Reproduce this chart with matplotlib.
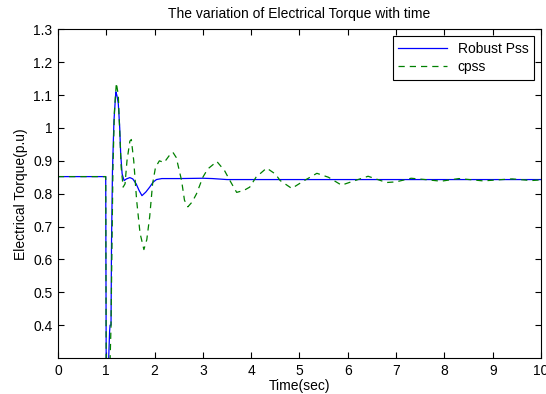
import numpy as np
import matplotlib
matplotlib.use("Agg")
import matplotlib.pyplot as plt

plt.rcParams["font.family"] = ["Liberation Sans", "DejaVu Sans"]

# Robust PSS response
t_rob = [0, 0.99, 1.0, 1.05, 1.07, 1.08, 1.10, 1.11, 1.13, 1.16, 1.19, 1.20,
         1.22, 1.25, 1.28, 1.30, 1.33, 1.37, 1.42, 1.49, 1.55, 1.62, 1.68,
         1.74, 1.82, 1.90, 1.97, 2.04, 2.15, 2.5, 3.0, 3.2, 3.5, 4.0, 10]
v_rob = [0.852, 0.852, 0.29, 0.29, 0.38, 0.40, 0.40, 0.65, 0.87, 1.02, 1.09, 1.11,
         1.10, 1.075, 1.00, 0.92, 0.86, 0.84, 0.845, 0.849, 0.845, 0.83, 0.81,
         0.794, 0.805, 0.82, 0.835, 0.843, 0.846, 0.846, 0.847, 0.846, 0.843, 0.843, 0.843]

# Conventional PSS response
t_cpss = [0, 0.99, 1.0, 1.08, 1.10, 1.12, 1.14, 1.17, 1.21, 1.25, 1.28, 1.31,
          1.35, 1.39, 1.43, 1.49, 1.52, 1.57, 1.63, 1.70, 1.78, 1.84, 1.90,
          1.96, 2.02, 2.10, 2.20, 2.30, 2.38, 2.45, 2.56, 2.62, 2.69, 2.78,
          2.87, 3.0, 3.1, 3.29, 3.45, 3.56, 3.70, 3.85, 3.97, 4.1, 4.32, 4.5,
          4.6, 4.84, 5.1, 5.36, 5.6, 5.87, 6.15, 6.42, 6.8, 7.0, 7.31, 7.6,
          7.93, 8.3, 8.8, 9.4, 9.8, 10]
v_cpss = [0.852, 0.852, 0.29, 0.29, 0.40, 0.65, 0.88, 1.05, 1.137, 1.10, 0.99, 0.88,
          0.82, 0.83, 0.90, 0.96, 0.965, 0.90, 0.78, 0.68, 0.63, 0.66, 0.73,
          0.83, 0.88, 0.90, 0.895, 0.915, 0.926, 0.91, 0.84, 0.78, 0.76, 0.775,
          0.80, 0.85, 0.875, 0.898, 0.87, 0.84, 0.804, 0.81, 0.82, 0.85, 0.878, 0.86,
          0.84, 0.816, 0.84, 0.862, 0.85, 0.826, 0.84, 0.853, 0.834, 0.836, 0.847, 0.843,
          0.838, 0.846, 0.839, 0.845, 0.840, 0.842]

fig = plt.figure(figsize=(5.46, 3.94), dpi=100)
ax = fig.add_axes([0.106, 0.0914, 0.885, 0.834])

ax.plot(t_rob, v_rob, "-", color="#0000ff", linewidth=0.9, label="Robust Pss")
ax.plot(t_cpss, v_cpss, "--", color="#008000", linewidth=0.9, label="cpss",
        dashes=(5, 4))

ax.set_xlim(0, 10)
ax.set_ylim(0.3, 1.3)
ax.set_xticks(range(0, 11))
yt = [0.4, 0.5, 0.6, 0.7, 0.8, 0.9, 1.0, 1.1, 1.2, 1.3]
ax.set_yticks(yt)
ax.set_yticklabels(["0.4", "0.5", "0.6", "0.7", "0.8", "0.9", "1", "1.1", "1.2", "1.3"])
ax.tick_params(direction="in", labelsize=10, top=True, right=True, length=4, pad=4)
for s in ax.spines.values():
    s.set_linewidth(0.8)

ax.set_title("The variation of Electrical Torque with time", fontsize=10, pad=8)
ax.set_xlabel("Time(sec)", fontsize=10, labelpad=1)
ax.set_ylabel("Electrical Torque(p.u)", fontsize=10, labelpad=4)

leg = ax.legend(loc="upper right", fontsize=10, fancybox=False, edgecolor="black",
                framealpha=1, handlelength=3.5, borderaxespad=0.5,
                borderpad=0.4, labelspacing=0.3)
leg.get_frame().set_linewidth(0.8)

fig.savefig("out.png", dpi=100)
